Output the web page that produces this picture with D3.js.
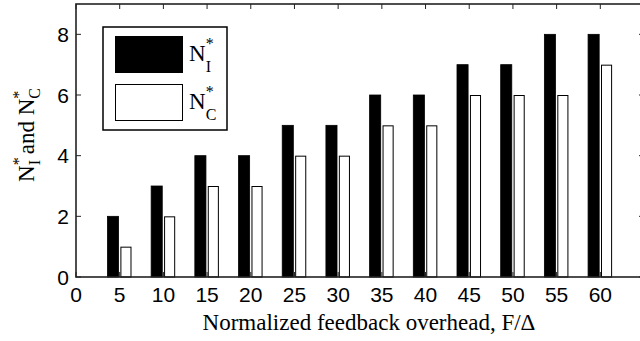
<!DOCTYPE html>
<html>
<head>
<meta charset="utf-8">
<script src="https://cdn.jsdelivr.net/npm/d3@7"></script>
<style>
  body { margin: 0; background: #fff; }
  svg { display: block; }
  .tick-lbl { font-family: "Liberation Sans", Arial, sans-serif; font-size: 21px; fill: #000; }
  .serif { font-family: "Liberation Serif", "Times New Roman", serif; fill: #000; }
</style>
</head>
<body>
<div id="chart"></div>
<script>
// data
const overhead = [5, 10, 15, 20, 25, 30, 35, 40, 45, 50, 55, 60];
const nI = [2, 3, 4, 4, 5, 5, 6, 6, 7, 7, 8, 8];
const nC = [1, 2, 3, 3, 4, 4, 5, 5, 6, 6, 6, 7];
const xTicks = [0, 5, 10, 15, 20, 25, 30, 35, 40, 45, 50, 55, 60];
const yTicks = [0, 2, 4, 6, 8];

let width = 640, height = 341;
let m = {left: 76, top: 4, right: 644, bottom: 277};

let svg = d3.select('#chart').append('svg')
  .attr('width', width)
  .attr('height', height);

let x = d3.scaleLinear().domain([0, 65]).range([m.left, m.right]);
let y = d3.scaleLinear().domain([0, 9]).range([m.bottom, m.top]);

// bars (MATLAB-style grouped bar)
let bw = 1.27;
svg.append('g').selectAll('rect')
  .data(overhead)
  .join('rect')
  .attr('x', (d) => x(d - 1.4))
  .attr('y', (d, i) => y(nI[i]))
  .attr('width', x(bw) - x(0))
  .attr('height', (d, i) => y(0) - y(nI[i]))
  .attr('fill', '#000')
  .attr('stroke', '#000')
  .attr('stroke-width', 0.8);

svg.append('g').selectAll('rect')
  .data(overhead)
  .join('rect')
  .attr('x', (d) => x(d + 0.08) + 0.5)
  .attr('y', (d, i) => y(nC[i]) + 0.5)
  .attr('width', x(bw) - x(0) - 1)
  .attr('height', (d, i) => y(0) - y(nC[i]) - 0.5)
  .attr('fill', '#fff')
  .attr('stroke', '#000')
  .attr('stroke-width', 1);

// frame
let frame = svg.append('g').attr('stroke', '#222').attr('stroke-width', 1.6).attr('fill', 'none');
frame.append('rect')
  .attr('x', m.left).attr('y', m.top)
  .attr('width', m.right - m.left).attr('height', m.bottom - m.top);

// inward ticks on all four sides
let tk = 5;
let ticks = svg.append('g').attr('stroke', '#222').attr('stroke-width', 1);
xTicks.forEach((t) => {
  ticks.append('line').attr('x1', x(t)).attr('x2', x(t)).attr('y1', m.top).attr('y2', m.top + tk);
  ticks.append('line').attr('x1', x(t)).attr('x2', x(t)).attr('y1', m.bottom).attr('y2', m.bottom - tk);
});
yTicks.forEach((t) => {
  ticks.append('line').attr('x1', m.left).attr('x2', m.left + tk).attr('y1', y(t)).attr('y2', y(t));
  ticks.append('line').attr('x1', m.right).attr('x2', m.right - tk).attr('y1', y(t)).attr('y2', y(t));
});

// tick labels
svg.append('g').selectAll('text')
  .data(xTicks)
  .join('text')
  .attr('class', 'tick-lbl')
  .attr('x', (d) => x(d))
  .attr('y', 302)
  .attr('text-anchor', 'middle')
  .text((d) => d);

svg.append('g').selectAll('text')
  .data(yTicks)
  .join('text')
  .attr('class', 'tick-lbl')
  .attr('x', 69)
  .attr('y', (d) => y(d) + 7.5)
  .attr('text-anchor', 'end')
  .text((d) => d);

// axis titles
svg.append('text')
  .attr('class', 'serif')
  .attr('x', 369)
  .attr('y', 330)
  .attr('text-anchor', 'middle')
  .style('font-size', '23px')
  .text('Normalized feedback overhead, F/\u0394');

let yl = svg.append('text')
  .attr('class', 'serif')
  .attr('transform', 'translate(34,135) rotate(-90)')
  .attr('text-anchor', 'middle')
  .style('font-size', '23px');
yl.append('tspan').text('N');
yl.append('tspan').attr('dy', -10).style('font-size', '16px').text('*');
yl.append('tspan').attr('dx', -8).attr('dy', 16).style('font-size', '16px').text('I');
yl.append('tspan').attr('dy', -6).text(' and N');
yl.append('tspan').attr('dy', -10).style('font-size', '16px').text('*');
yl.append('tspan').attr('dx', -8).attr('dy', 16).style('font-size', '16px').text('C');

// legend
let lg = svg.append('g');
lg.append('rect')
  .attr('x', 103).attr('y', 27).attr('width', 124).attr('height', 103)
  .attr('fill', '#fff').attr('stroke', '#000').attr('stroke-width', 1.5);
lg.append('rect')
  .attr('x', 115).attr('y', 36).attr('width', 68).attr('height', 37)
  .attr('fill', '#000');
lg.append('rect')
  .attr('x', 115.5).attr('y', 84.5).attr('width', 67).attr('height', 36)
  .attr('fill', '#fff').attr('stroke', '#000').attr('stroke-width', 1);

let legendItems = ['I', 'C'];
legendItems.forEach((s, i) => {
  let t = lg.append('text')
    .attr('class', 'serif')
    .attr('x', 189)
    .attr('y', 61 + i * 48)
    .style('font-size', '23px');
  t.append('tspan').text('N');
  t.append('tspan').attr('dy', -12).style('font-size', '16px').text('*');
  t.append('tspan').attr('dx', -8).attr('dy', 23).style('font-size', '16px').text(s);
});
</script>
</body>
</html>
